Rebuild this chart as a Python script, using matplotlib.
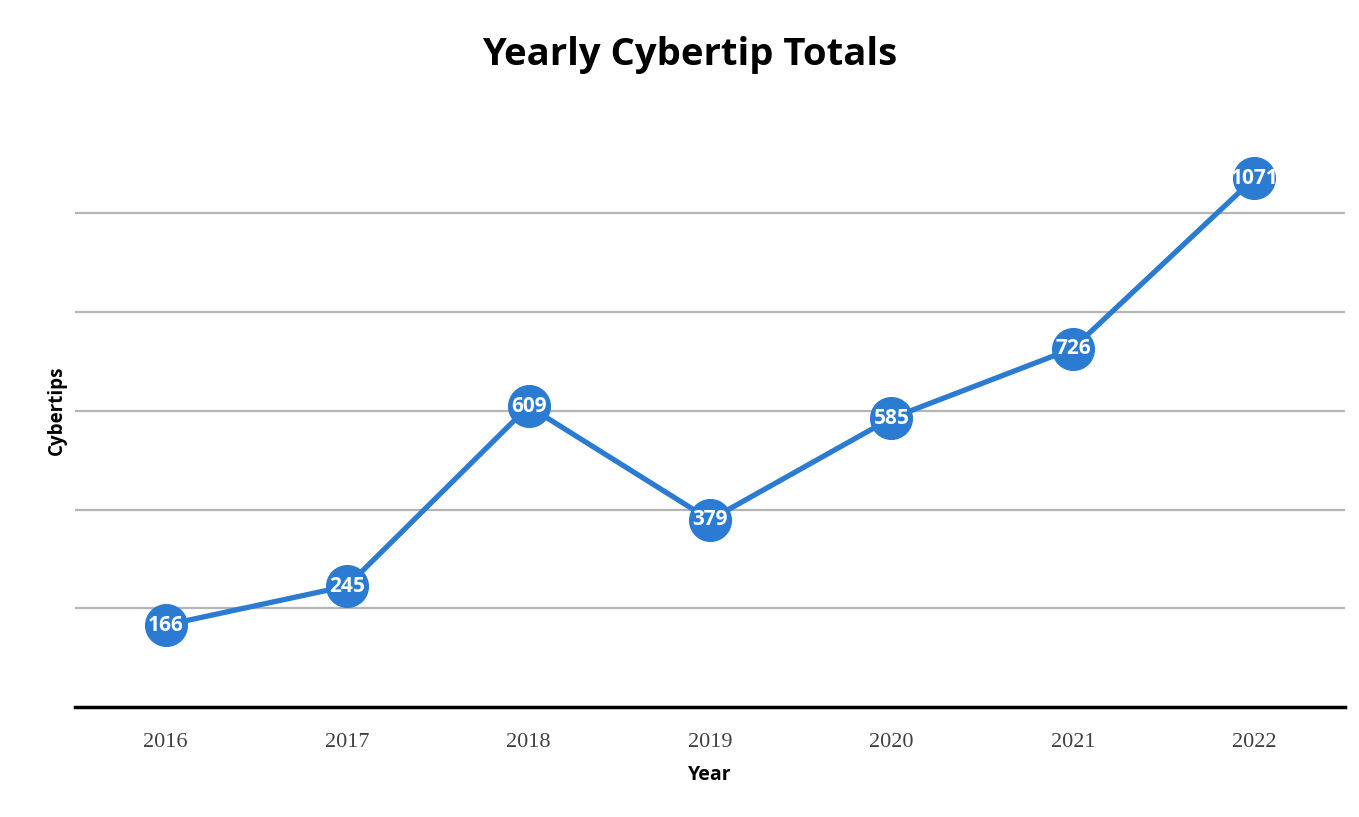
import matplotlib
matplotlib.use("Agg")
import matplotlib.pyplot as plt

years = ["2016", "2017", "2018", "2019", "2020", "2021", "2022"]
cybertips = [166, 245, 609, 379, 585, 726, 1071]
grid_values = [200, 400, 600, 800, 1000]

blue = "#2a7bd1"

fig = plt.figure(figsize=(13.59, 8.17), dpi=100)
ax = fig.add_axes([75/1359, 1-707/817, (1345-75)/1359, (707-114.5)/817])

x = list(range(len(years)))
ax.plot(x, cybertips, color=blue, linewidth=3.8, marker="o", markersize=30,
        markerfacecolor=blue, markeredgecolor=blue, zorder=3, solid_capstyle="round")
for xi, v in zip(x, cybertips):
    ax.text(xi, v, str(v), color="white", fontsize=15, fontweight="bold",
            ha="center", va="center", family=["Open Sans", "DejaVu Sans"], zorder=4)

for g in grid_values:
    ax.axhline(g, color="#b5b5b5", linewidth=1.6, zorder=1)

ax.set_xlim(-0.5, len(years) - 0.5)
ax.set_ylim(0, 1200)
ax.set_xticks(x)
ax.set_xticklabels(years, fontsize=16, color="#404040", family=["Liberation Serif", "DejaVu Serif"])
ax.set_yticks([])
ax.tick_params(axis="x", length=0, pad=19)
for s in ["top", "right", "left"]:
    ax.spines[s].set_visible(False)
ax.spines["bottom"].set_linewidth(2.5)
ax.spines["bottom"].set_color("black")

ax.set_xlabel("Year", fontsize=14, fontweight="bold", family=["Open Sans", "DejaVu Sans"], labelpad=9)
fig.text(57/1359, 1-410/817, "Cybertips", rotation=90, fontsize=13.5, fontweight="bold",
         ha="center", va="center", family=["Open Sans", "DejaVu Sans"])
fig.text(690/1359, 1-55/817, "Yearly Cybertip Totals", fontsize=27.5, fontweight="bold",
         ha="center", va="center", family=["Open Sans", "DejaVu Sans"])

fig.savefig("out.png", dpi=100)
